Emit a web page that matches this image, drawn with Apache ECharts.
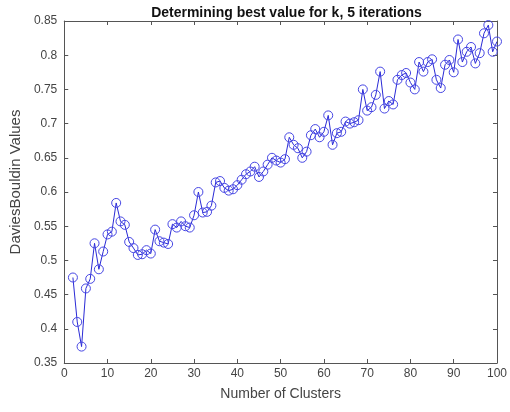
<!DOCTYPE html>
<html>
<head>
<meta charset="utf-8">
<style>
  html, body { margin: 0; padding: 0; background: #fff; }
  #chart { width: 510px; height: 412px; }
</style>
<script src="https://cdn.jsdelivr.net/npm/echarts@6/dist/echarts.min.js"></script>
</head>
<body>
<div id="chart"></div>
<script>
// Number of clusters tested (k = 2 .. 100)
const clusters = [
  2, 3, 4, 5, 6, 7, 8, 9, 10, 11, 12, 13, 14, 15, 16, 17, 18, 19, 20,
  21, 22, 23, 24, 25, 26, 27, 28, 29, 30, 31, 32, 33, 34, 35, 36, 37, 38, 39, 40,
  41, 42, 43, 44, 45, 46, 47, 48, 49, 50, 51, 52, 53, 54, 55, 56, 57, 58, 59, 60,
  61, 62, 63, 64, 65, 66, 67, 68, 69, 70, 71, 72, 73, 74, 75, 76, 77, 78, 79, 80,
  81, 82, 83, 84, 85, 86, 87, 88, 89, 90, 91, 92, 93, 94, 95, 96, 97, 98, 99, 100
];

// Davies-Bouldin index for each k (mean of 5 iterations)
const dbValues = [
  0.475, 0.410, 0.374, 0.459, 0.473, 0.525, 0.487, 0.513, 0.538, 0.542,
  0.584, 0.557, 0.552, 0.527, 0.518, 0.508, 0.509, 0.515, 0.510,
  0.545, 0.528, 0.526, 0.524, 0.553, 0.548, 0.557, 0.550, 0.548, 0.566,
  0.600, 0.570, 0.571, 0.580, 0.614, 0.616, 0.606, 0.602, 0.604, 0.610,
  0.618, 0.626, 0.630, 0.637, 0.622, 0.630, 0.640, 0.650, 0.646, 0.643,
  0.648, 0.680, 0.669, 0.664, 0.650, 0.659, 0.683, 0.692, 0.680, 0.688,
  0.712, 0.669, 0.686, 0.688, 0.703, 0.700, 0.702, 0.705, 0.750, 0.719,
  0.724, 0.742, 0.776, 0.722, 0.733, 0.728, 0.764, 0.771, 0.774, 0.760,
  0.750, 0.790, 0.776, 0.790, 0.794, 0.764, 0.752, 0.786, 0.793, 0.775,
  0.823, 0.790, 0.805, 0.812, 0.788, 0.803, 0.832, 0.844, 0.805, 0.820
];

const xTicks = { min: 0, max: 100, step: 10 };
const yTicks = { min: 0.35, max: 0.85, step: 0.05 };

const titleText = 'Determining best value for k, 5 iterations';
const xName = 'Number of Clusters';
const yName = 'DaviesBouldin Values';

const FONT = '"Liberation Sans", Arial, sans-serif';
const AXIS_COLOR = '#555';
const LABEL_COLOR = '#444';

const GRID = { left: 64, right: 11, top: 21, bottom: 49 };
const CHART_W = 510;

const points = clusters.map((k, i) => [k, dbValues[i]]);

function boxAxis(extra) {
  return Object.assign({
    type: 'value',
    axisLine: { show: true, onZero: false, lineStyle: { color: AXIS_COLOR, width: 1 } },
    axisTick: { show: true, inside: true, length: 4, lineStyle: { color: AXIS_COLOR } },
    splitLine: { show: false },
    axisLabel: { show: false }
  }, extra);
}

const chart = echarts.init(document.getElementById('chart'), null, { renderer: 'canvas' });

chart.setOption({
  backgroundColor: '#fff',
  animation: false,
  title: {
    text: titleText,
    // centred over the plot box rather than the whole canvas
    left: (GRID.left + CHART_W - GRID.right) / 2,
    textAlign: 'center',
    top: 1,
    textStyle: { fontFamily: FONT, fontSize: 14, fontWeight: 'bold', color: '#111' }
  },
  grid: Object.assign({ containLabel: false }, GRID),
  xAxis: [
    boxAxis({
      position: 'bottom',
      min: xTicks.min, max: xTicks.max, interval: xTicks.step,
      name: xName, nameLocation: 'middle', nameGap: 24,
      nameTextStyle: { fontFamily: FONT, fontSize: 14, color: LABEL_COLOR },
      axisLabel: { show: true, margin: 5, fontFamily: FONT, fontSize: 12, color: LABEL_COLOR }
    }),
    boxAxis({
      position: 'top',
      min: xTicks.min, max: xTicks.max, interval: xTicks.step
    })
  ],
  yAxis: [
    boxAxis({
      position: 'left',
      min: yTicks.min, max: yTicks.max, interval: yTicks.step,
      name: yName, nameLocation: 'middle', nameGap: 34,
      nameTextStyle: { fontFamily: FONT, fontSize: 15, color: LABEL_COLOR, padding: [0, 0, 0, 20] },
      axisLabel: {
        show: true, margin: 7, fontFamily: FONT, fontSize: 12, color: LABEL_COLOR,
        formatter: v => String(+v.toFixed(2))
      }
    }),
    boxAxis({
      position: 'right',
      min: yTicks.min, max: yTicks.max, interval: yTicks.step
    })
  ],
  series: [{
    type: 'line',
    xAxisIndex: 0,
    yAxisIndex: 0,
    data: points,
    symbol: 'circle',
    symbolSize: 9,
    showAllSymbol: true,
    lineStyle: { color: '#2a2ad6', width: 1 },
    itemStyle: { color: 'rgba(0,0,0,0)', borderColor: '#4646e4', borderWidth: 1 },
    emphasis: { disabled: true }
  }]
});
</script>
</body>
</html>
